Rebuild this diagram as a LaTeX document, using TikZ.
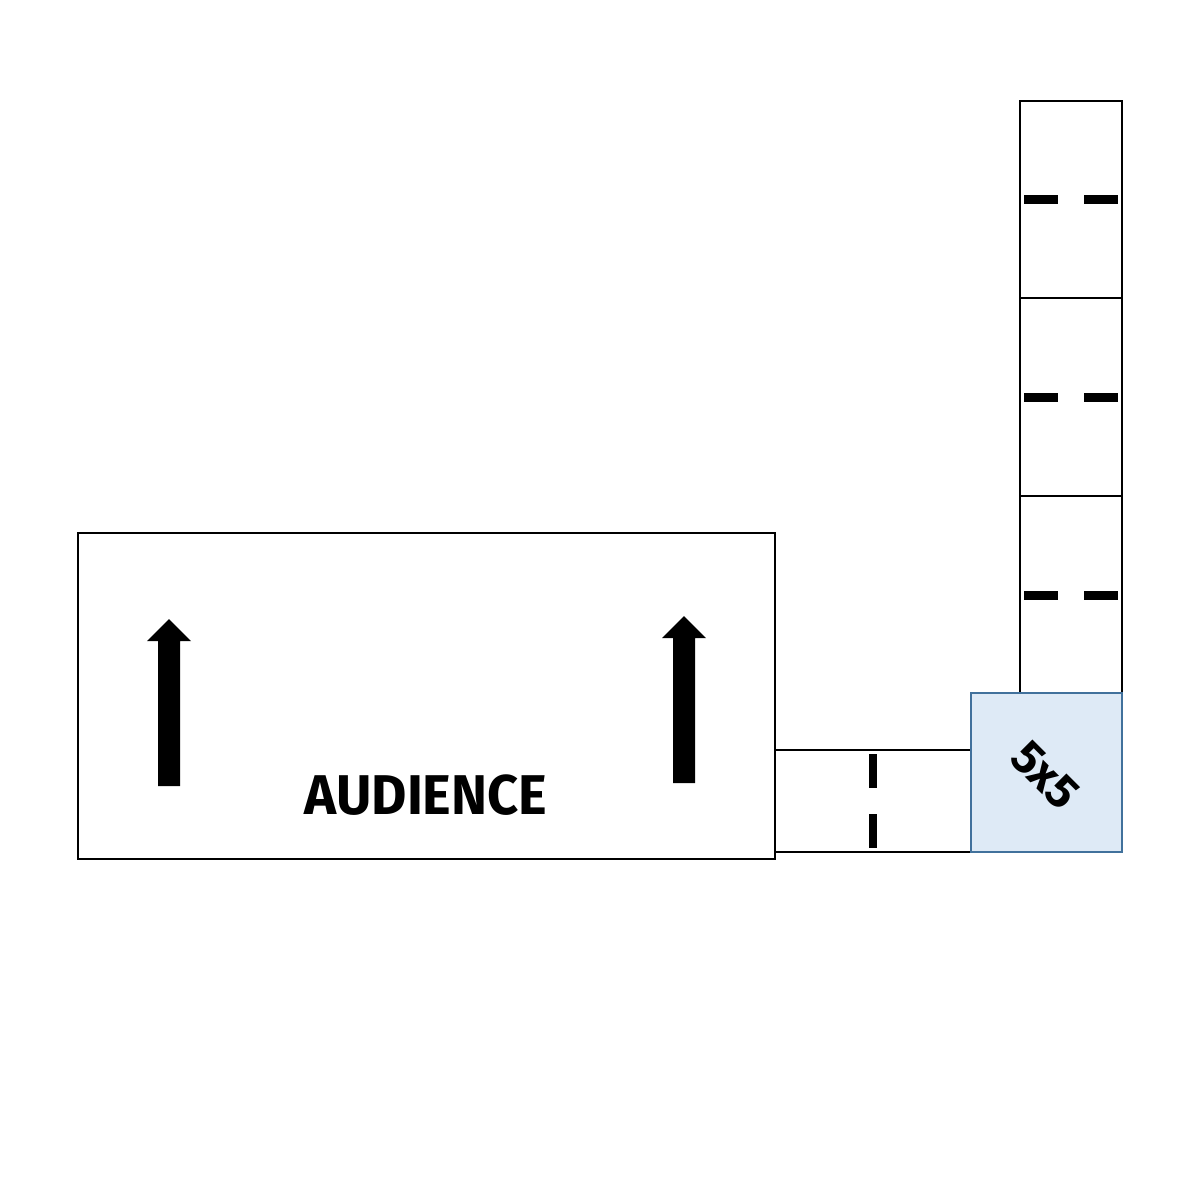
\documentclass[tikz,border=0pt]{standalone}
\usepackage{fontspec}
\newfontfamily\labfont{Fira Sans}
\definecolor{sqfill}{HTML}{DEEAF6}
\definecolor{sqline}{HTML}{41719C}
\begin{document}
\begin{tikzpicture}[x=1pt,y=-1pt,
  box/.style={draw=black, line width=2.8pt, inner sep=0pt, outer sep=0pt, anchor=north west, fill=white},
  sqbox/.style={draw=sqline, line width=2.8pt, fill=sqfill, inner sep=0pt, outer sep=0pt, anchor=north west},
  dashmark/.style={line width=8.5pt, line cap=butt},
  bigarrow/.style={fill=black, draw=none}]
\useasboundingbox (0,0) rectangle (1200,1200);
% audience area
\node[box, minimum width=697pt, minimum height=326pt] (aud) at (78,533) {};
\node[font=\labfont\bfseries\fontsize{56}{56}\selectfont, xscale=0.97] (audlab) at (426,795) {AUDIENCE};
% arrows
\path[bigarrow] (158,786) -- (180,786) -- (180,641) -- (191,641) -- (169,619) -- (147,641) -- (158,641) -- cycle;
\path[bigarrow] (673,783) -- (695,783) -- (695,638) -- (706,638) -- (684,616) -- (662,638) -- (673,638) -- cycle;
% connector
\node[box, minimum width=196pt, minimum height=102pt] (conn) at (775,750) {};
\draw[dashmark] (873,754) -- (873,788);
\draw[dashmark] (873,814) -- (873,848);
% vertical stack
\node[box, minimum width=102pt, minimum height=197pt] (s1) at (1020,101) {};
\node[box, minimum width=102pt, minimum height=198pt] (s2) at (1020,298) {};
\node[box, minimum width=102pt, minimum height=197pt] (s3) at (1020,496) {};
\foreach \y in {199.5,397.5,595.5}{
  \draw[dashmark] (1024,\y) -- (1058,\y);
  \draw[dashmark] (1084,\y) -- (1118,\y);
}
% 5x5 square
\node[sqbox, minimum width=151pt, minimum height=159pt] (sq) at (971,693) {};
\node[font=\labfont\bfseries\fontsize{47}{47}\selectfont, rotate=-45, inner sep=0pt] (sqlab) at (1045,775) {5x5};
\end{tikzpicture}
\end{document}
